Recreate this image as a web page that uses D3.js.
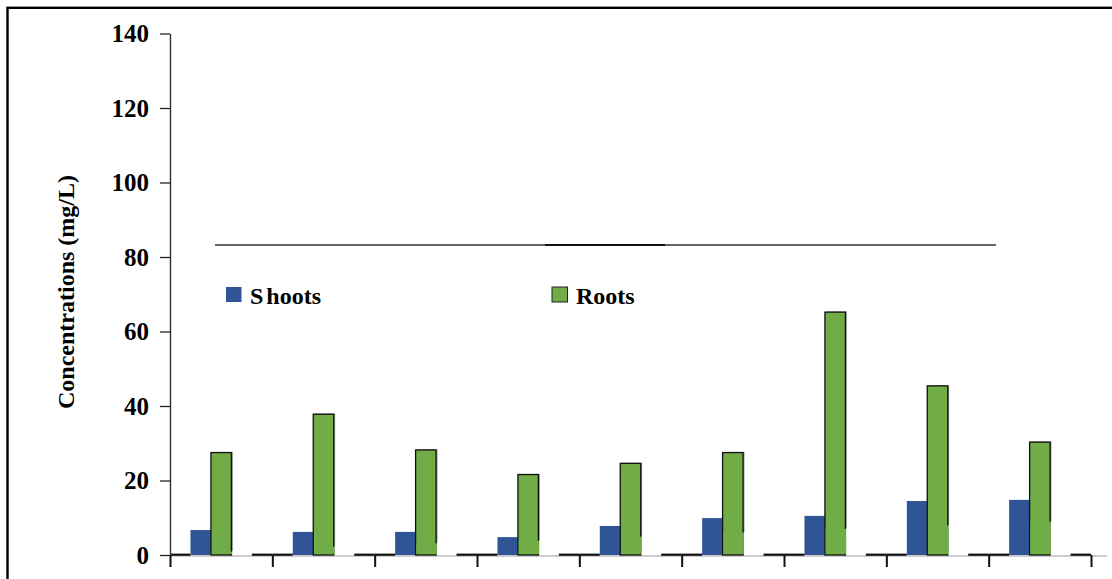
<!DOCTYPE html>
<html>
<head>
<meta charset="utf-8">
<script src="https://cdn.jsdelivr.net/npm/d3@7"></script>
<style>
  html, body { margin: 0; padding: 0; background: #fff; }
  svg { display: block; }
  text { font-family: "Liberation Serif", "Times New Roman", serif; font-weight: bold; fill: #000; }
</style>
</head>
<body>
<svg id="chart" width="1112" height="579"></svg>
<script>
// Sampling groups (no labels on the category axis)
const categories = ["G1", "G2", "G3", "G4", "G5", "G6", "G7", "G8", "G9"];
// Concentrations in mg/L
const shoots = [6.7, 6.2, 6.2, 4.8, 7.8, 9.9, 10.5, 14.5, 14.8];
const roots = [27.5, 37.8, 28.2, 21.6, 24.6, 27.5, 65.2, 45.4, 30.3];
// lower part of each root bar, filled without an outline
const rootsBase = [0.9, 2.2, 3.1, 3.8, 4.9, 6.0, 7.0, 7.9, 8.9];
// empty series sitting on the baseline at both ends of each group
const emptySeries = [0, 0, 0, 0, 0, 0, 0, 0, 0];
const yTicks = [0, 20, 40, 60, 80, 100, 120, 140];
const seriesNames = ["Shoots", "Roots"];
const colors = { Shoots: "#2F5597", Roots: "#70AD47" };

const svg = d3.select("#chart");
const margin = { left: 170, top: 33.5, right: 21, bottom: 24 };
const W = 1112, H = 579;
const plotBottom = H - margin.bottom; // y of zero

// outer frame (cut off at right and bottom)
svg.append("rect")
  .attr("x", 7.5).attr("y", 7.8)
  .attr("width", W + 20).attr("height", H + 20)
  .attr("fill", "none").attr("stroke", "#000").attr("stroke-width", 2.4);

const y = d3.scaleLinear().domain([0, 140]).range([plotBottom, margin.top]);

// group boundaries
const xb = d3.scaleLinear().domain([0, categories.length]).range([margin.left, W - margin.right]);
const groupW = xb(1) - xb(0);
// five slots per group: empty, Shoots, Roots, spacing, empty
const slot = d3.scaleBand().domain(["lead", "Shoots", "Roots", "gap", "trail"]).range([0, groupW]).padding(0);

const data = categories.map((c, i) => ({
  c, i, shoots: shoots[i], roots: roots[i], base: rootsBase[i], empty: emptySeries[i]
}));

// baseline (grey)
svg.append("line")
  .attr("x1", xb(0)).attr("x2", W - 5)
  .attr("y1", y(0) + 1).attr("y2", y(0) + 1)
  .attr("stroke", "#9a9a9a").attr("stroke-width", 1.2);

// x axis: ticks at group boundaries, no labels
const xAxis = svg.append("g")
  .attr("transform", `translate(0,${y(0)})`)
  .call(d3.axisBottom(xb).tickValues(d3.range(0, categories.length + 1)).tickSize(12).tickSizeOuter(0).tickFormat(""));
xAxis.select(".domain").remove();
xAxis.selectAll(".tick line").attr("stroke", "#111").attr("stroke-width", 2);

// empty-series segments on the baseline
const g = svg.append("g");
["lead", "trail"].forEach(k => {
  g.selectAll(null).data(data).enter().append("line")
    .attr("x1", d => xb(d.i) + slot(k))
    .attr("x2", d => xb(d.i) + slot(k) + slot.bandwidth())
    .attr("y1", d => y(d.empty) - 0.3)
    .attr("y2", d => y(d.empty) - 0.3)
    .attr("stroke", "#111").attr("stroke-width", 2.2);
});

// Shoots bars
g.selectAll(".shoot").data(data).enter().append("rect")
  .attr("class", "shoot")
  .attr("x", d => xb(d.i) + slot("Shoots"))
  .attr("y", d => y(d.shoots))
  .attr("width", slot.bandwidth())
  .attr("height", d => y(0) - y(d.shoots))
  .attr("fill", colors.Shoots);

// Roots bars: soft shadow down to the plain lower part, outlined bar, then plain lower fill
g.selectAll(".rootShadow").data(data).enter().append("rect")
  .attr("x", d => xb(d.i) + slot("Roots") + 1.4)
  .attr("y", d => y(d.roots) - 0.6)
  .attr("width", slot.bandwidth())
  .attr("height", d => y(d.base) - y(d.roots))
  .attr("fill", "#8f8f8f");
g.selectAll(".root").data(data).enter().append("rect")
  .attr("class", "root")
  .attr("x", d => xb(d.i) + slot("Roots"))
  .attr("y", d => y(d.roots))
  .attr("width", slot.bandwidth())
  .attr("height", d => y(0) - y(d.roots))
  .attr("fill", colors.Roots)
  .attr("stroke", "#111").attr("stroke-width", 1.3);
g.selectAll(".rootBase").data(data).enter().append("rect")
  .attr("x", d => xb(d.i) + slot("Roots") + 0.8)
  .attr("y", d => y(d.base))
  .attr("width", slot.bandwidth())
  .attr("height", d => Math.max(0, y(0) - 1 - y(d.base)))
  .attr("fill", colors.Roots);

// y axis
const yAxis = svg.append("g")
  .attr("transform", `translate(${margin.left},0)`)
  .call(d3.axisLeft(y).tickValues(yTicks).tickSize(10).tickSizeOuter(0).tickPadding(11));
yAxis.select(".domain").attr("stroke", "#333").attr("stroke-width", 1.4);
yAxis.selectAll(".tick line").attr("stroke", "#222").attr("stroke-width", 1.3);
yAxis.selectAll(".tick text")
  .style("font-family", "'Liberation Serif', serif")
  .style("font-weight", "bold")
  .style("font-size", "25px")
  .attr("fill", "#000");

// y axis title
svg.append("text")
  .attr("transform", `translate(74,292) rotate(-90)`)
  .attr("text-anchor", "middle")
  .style("font-size", "24px")
  .text("Concentrations (mg/L)");

// rule above the legend
svg.append("line")
  .attr("x1", 215).attr("x2", 996)
  .attr("y1", 245).attr("y2", 245)
  .attr("stroke", "#333").attr("stroke-width", 1.3);
svg.append("line")
  .attr("x1", 545).attr("x2", 665)
  .attr("y1", 245).attr("y2", 245)
  .attr("stroke", "#111").attr("stroke-width", 1.8);

// legend
const legendPos = { Shoots: 226, Roots: 552 };
seriesNames.forEach(name => {
  const lx = legendPos[name];
  svg.append("rect")
    .attr("x", lx).attr("y", 287)
    .attr("width", 15.5).attr("height", 15)
    .attr("fill", colors[name])
    .attr("stroke", name === "Roots" ? "#222" : "none")
    .attr("stroke-width", 1);
  const t = svg.append("text")
    .attr("x", lx + 24).attr("y", 304)
    .style("font-size", "24px");
  if (name === "Shoots") {
    t.append("tspan").text("S");
    t.append("tspan").attr("dx", 3).text("hoots");
  } else {
    t.text(name);
  }
});
</script>
</body>
</html>
